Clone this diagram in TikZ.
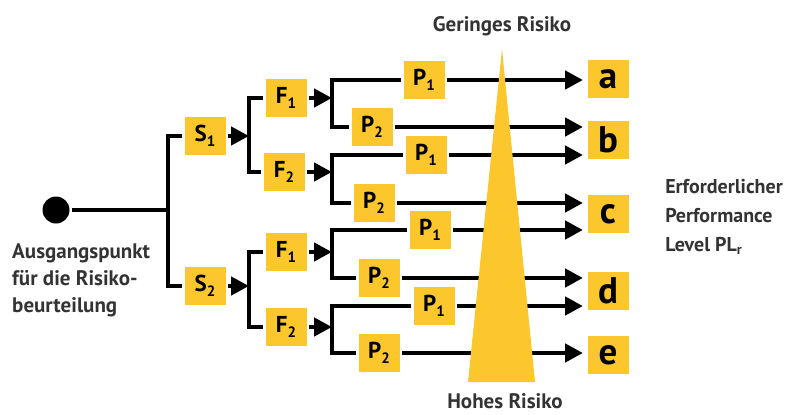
\documentclass[tikz,border=0pt]{standalone}
\usepackage{fontspec}
\setmainfont{PT Sans}
\usetikzlibrary{arrows.meta}
\definecolor{riskyellow}{RGB}{252,198,45}
\definecolor{labelgray}{RGB}{51,51,51}
\newcommand{\idx}[1]{\raisebox{-5pt}{\fontsize{15}{15}\selectfont #1}}

\begin{document}
\begin{tikzpicture}[x=1pt,y=-1pt,line width=4.5pt,
  >={Triangle[length=18pt,width=18pt]},
  param node/.style={fill=riskyellow,minimum width=41pt,minimum height=38pt,inner sep=0pt,
    font=\fontsize{23}{23}\selectfont\bfseries},
  level node/.style={fill=riskyellow,minimum width=41pt,minimum height=38pt,inner sep=0pt,
    font=\fontsize{37}{37}\selectfont\bfseries},
  label node/.style={text=labelgray,inner sep=0pt,align=left,
    font=\fontsize{21}{27}\selectfont\bfseries}]

  \useasboundingbox (0,0) rectangle (793,415);

  \node[circle,fill=black,inner sep=0pt,minimum size=27pt] (start) at (56,210) {};
  \coordinate (j0) at (168,210);
  \node[param node] (s1) at (205,136) {S\idx{1}};
  \node[param node] (s2) at (205,286) {S\idx{2}};
  \coordinate (j1) at (249,136);
  \coordinate (j2) at (249,286);
  \node[param node] (f11) at (286,98) {F\idx{1}};
  \node[param node] (f12) at (284,172) {F\idx{2}};
  \node[param node] (f21) at (286,252) {F\idx{1}};
  \node[param node] (f22) at (286,327) {F\idx{2}};
  \coordinate (k11) at (332,98);
  \coordinate (k12) at (332,172);
  \coordinate (k21) at (332,252);
  \coordinate (k22) at (332,327);

  \node[param node] (p111) at (424,80) {P\idx{1}};
  \node[param node] (p112) at (372,127) {P\idx{2}};
  \node[param node] (p121) at (426,155) {P\idx{1}};
  \node[param node] (p122) at (374,203) {P\idx{2}};
  \node[param node] (p211) at (430,230) {P\idx{1}};
  \node[param node] (p212) at (379,278) {P\idx{2}};
  \node[param node] (p221) at (434,306) {P\idx{1}};
  \node[param node] (p222) at (379,353) {P\idx{2}};
  \coordinate (t111) at (583,80);
  \coordinate (t112) at (583,127);
  \coordinate (t121) at (583,155);
  \coordinate (t122) at (583,203);
  \coordinate (t211) at (583,230);
  \coordinate (t212) at (583,278);
  \coordinate (t221) at (583,306);
  \coordinate (t222) at (583,353);

  \node[level node] (a) at (608,79) {a};
  \node[level node] (b) at (608,140) {b};
  \node[level node] (c) at (608,214) {c};
  \node[level node] (d) at (608,291) {d};
  \node[level node] (e) at (608,355) {e};

  % tree
  \draw[line width=3.5pt] (start) -- (j0);
  \draw (s1) -| (j0) |- (s2);
  \draw[->] (s1) -- (j1);
  \draw[->] (s2) -- (j2);
  \draw (f11) -| (j1) |- (f12);
  \draw (f21) -| (j2) |- (f22);
  \draw[->] (f11) -- (k11);
  \draw[->] (f12) -- (k12);
  \draw[->] (f21) -- (k21);
  \draw[->] (f22) -- (k22);
  \draw (p111) -| (k11) |- (p112);
  \draw (p121) -| (k12) |- (p122);
  \draw (p211) -| (k21) |- (p212);
  \draw (p221) -| (k22) |- (p222);
  \draw[->] (p111) -- (t111);
  \draw[->] (p112) -- (t112);
  \draw[->] (p121) -- (t121);
  \draw[->] (p122) -- (t122);
  \draw[->] (p211) -- (t211);
  \draw[->] (p212) -- (t212);
  \draw[->] (p221) -- (t221);
  \draw[->] (p222) -- (t222);

  % risk wedge
  \fill[riskyellow] (502,49) -- (535,382) -- (468,382) -- cycle;

  \node[label node,anchor=base] (low) at (502,31) {Geringes Risiko};
  \node[label node,anchor=base] (high) at (505,408) {Hohes Risiko};
  \node[label node,anchor=north west] (origin) at (10,241)
    {Ausgangspunkt\\für die Risiko-\\beurteilung};
  \node[label node,anchor=north west,font=\fontsize{20}{29}\selectfont\bfseries] (plr) at (663,177)
    {Erforderlicher\\Performance\\Level PL\raisebox{-3pt}{\fontsize{14}{14}\selectfont r}};
\end{tikzpicture}
\end{document}
